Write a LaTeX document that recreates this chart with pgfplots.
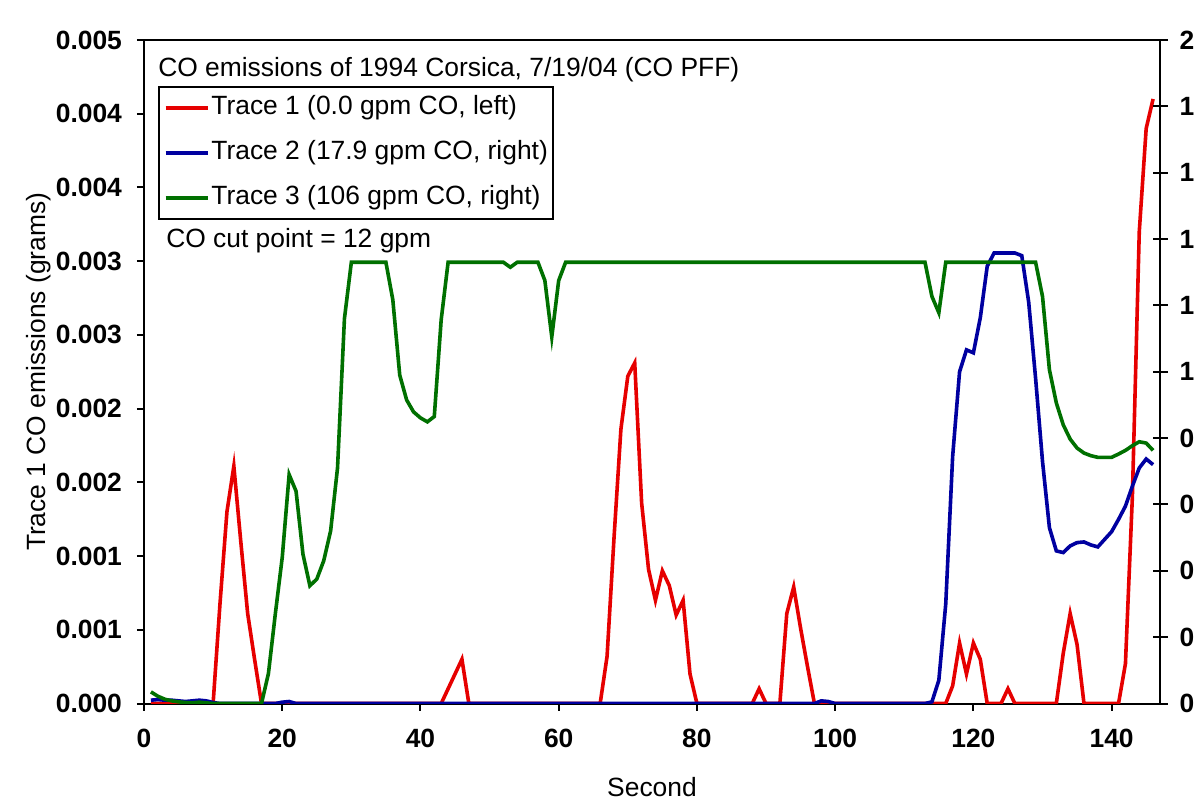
\documentclass[border=0pt]{standalone}
\usepackage{fontspec}
\setmainfont{Liberation Sans}
\usepackage{pgfplots}
\pgfplotsset{compat=1.18}
\definecolor{trRed}{RGB}{230,0,0}
\definecolor{trBlue}{RGB}{0,0,160}
\definecolor{trGreen}{RGB}{0,112,0}
\newcommand{\fs}{\fontsize{13.2}{15.8}\selectfont}
\begin{document}
\begin{tikzpicture}
\pgfplotsset{
  common/.style={
    width=508pt, height=331.75pt, scale only axis,
    xmin=0, xmax=147,
    axis line style={line width=1pt},
    every tick/.style={black, line width=1pt},
    tick label style={font=\fs\bfseries},
    /pgf/number format/assume math mode=true,
  }
}
\begin{axis}[common, name=ax,
  ymin=0, ymax=0.0045,
  ytick={0,0.0005,0.001,0.0015,0.002,0.0025,0.003,0.0035,0.004,0.0045},
  yticklabels={0.000,0.001,0.001,0.002,0.002,0.003,0.003,0.004,0.004,0.005},
  scaled y ticks=false,
  xtick={0,20,40,60,80,100,120,140},
  tick pos=left,
  tick align=outside, major tick length=3.5pt,
  yticklabel style={xshift=-4pt},
  xticklabel style={yshift=-5.5pt},
  xlabel={Second},
  ylabel={Trace 1 CO emissions (grams)},
  xlabel style={font=\fs, at={(axis description cs:0.5,0)}, anchor=center, yshift=-41.75pt},
  ylabel style={font=\fs, at={(axis description cs:-0.104,0.5)}, anchor=center},
]
\addplot[trRed, line width=1.8pt] coordinates {
(1,0) (10,0) (11,0.00068) (12,0.0013) (13,0.00161) (14,0.0011) (15,0.00061) (16,0.0003) (17,0)
(43,0) (44,0.0001) (45,0.0002) (46,0.0003) (47,0)
(66,0) (67,0.00032) (68,0.00112) (69,0.00186) (70,0.00222) (71,0.00231) (72,0.00136) (73,0.00091)
(74,0.0007) (75,0.0009) (76,0.0008) (77,0.0006) (78,0.0007) (79,0.0002) (80,0)
(88,0) (89,0.0001) (90,0) (92,0) (93,0.00061) (94,0.00079) (95,0.00051) (96,0.00025) (97,0)
(116,0) (117,0.00012) (118,0.00041) (119,0.0002) (120,0.00041) (121,0.0003) (122,0)
(124,0) (125,0.0001) (126,0) (132,0) (133,0.00034) (134,0.00061) (135,0.0004) (136,0)
(141,0) (142,0.00027) (143,0.0014) (144,0.0032) (145,0.0039) (146,0.0041)
};
\node[anchor=west, font=\fs] at (axis description cs:0,1) [xshift=3.6pt, yshift=-15pt] {CO emissions of 1994 Corsica, 7/19/04 (CO PFF)};
\node[anchor=west, font=\fs] at (axis description cs:0,1) [xshift=7.6pt, yshift=-100.5pt] {CO cut point = 12 gpm};
\end{axis}
\begin{axis}[common,
  ymin=0, ymax=2,
  axis y line*=right, axis x line=none,
  ytick={0,0.2,0.4,0.6,0.8,1,1.2,1.4,1.6,1.8,2},
  yticklabels={0.0,0.2,0.4,0.6,0.8,1.0,1.2,1.4,1.6,1.8,2.0},
  yticklabel style={xshift=2.5pt},
  tick align=center, major tick length=7.5pt,
  legend cell align=left,
  legend style={at={(axis description cs:0,1)}, anchor=north west, xshift=7pt, yshift=-23pt,
    draw=black, line width=0.8pt, font=\fs, inner xsep=2.5pt, inner ysep=4.25pt,
    row sep=10pt, column sep=1pt,
    nodes={inner sep=0pt, text height=9.5pt, text depth=3pt}},
  legend image code/.code={\draw[#1, line width=1.8pt] (0pt,0pt) -- (21pt,0pt);},
]
\addlegendimage{trRed, line width=1.8pt}
\addlegendentry{Trace 1 (0.0 gpm CO, left)}
\addplot[trBlue, line width=1.8pt] coordinates {
(1,0.01) (2,0.012) (3,0.01) (4,0.01) (5,0.008) (6,0.006) (7,0.008) (8,0.01) (9,0.008) (10,0.003) (11,0)
(19,0) (20,0.004) (21,0.006) (22,0) (97,0) (98,0.008) (99,0.006) (100,0) (113,0)
(114,0.005) (115,0.07) (116,0.3) (117,0.745) (118,1.0) (119,1.066) (120,1.057) (121,1.163) (122,1.318)
(123,1.358) (124,1.358) (125,1.358) (126,1.358) (127,1.35) (128,1.21) (129,0.98) (130,0.73) (131,0.53)
(132,0.46) (133,0.455) (134,0.475) (135,0.485) (136,0.487) (137,0.478) (138,0.472) (139,0.495) (140,0.518)
(141,0.555) (142,0.595) (143,0.655) (144,0.71) (145,0.737) (146,0.72)
};
\addlegendentry{Trace 2 (17.9 gpm CO, right)}
\addplot[trGreen, line width=1.8pt] coordinates {
(1,0.035) (2,0.022) (3,0.013) (4,0.008) (5,0.005) (6,0.003) (7,0.002) (8,0.004) (9,0.002) (10,0) (17,0)
(18,0.09) (19,0.27) (20,0.44) (21,0.69) (22,0.64) (23,0.45) (24,0.355) (25,0.375) (26,0.43) (27,0.52)
(28,0.71) (29,1.16) (30,1.33) (35,1.33) (36,1.217) (37,0.99) (38,0.915) (39,0.879) (40,0.861) (41,0.849)
(42,0.865) (43,1.157) (44,1.33) (52,1.33) (53,1.315) (54,1.33) (57,1.33) (58,1.275) (59,1.105) (60,1.275)
(61,1.33) (113,1.33) (114,1.227) (115,1.178) (116,1.33) (129,1.33) (130,1.227) (131,1.006) (132,0.906)
(133,0.84) (134,0.797) (135,0.77) (136,0.755) (137,0.747) (138,0.742) (139,0.742) (140,0.742) (141,0.752)
(142,0.763) (143,0.777) (144,0.789) (145,0.785) (146,0.763)
};
\addlegendentry{Trace 3 (106 gpm CO, right)}
\end{axis}
\pgfresetboundingbox
\path[use as bounding box] ([xshift=-72pt, yshift=-48.25pt]ax.south west) rectangle ++(597pt,400pt);
\end{tikzpicture}
\end{document}
